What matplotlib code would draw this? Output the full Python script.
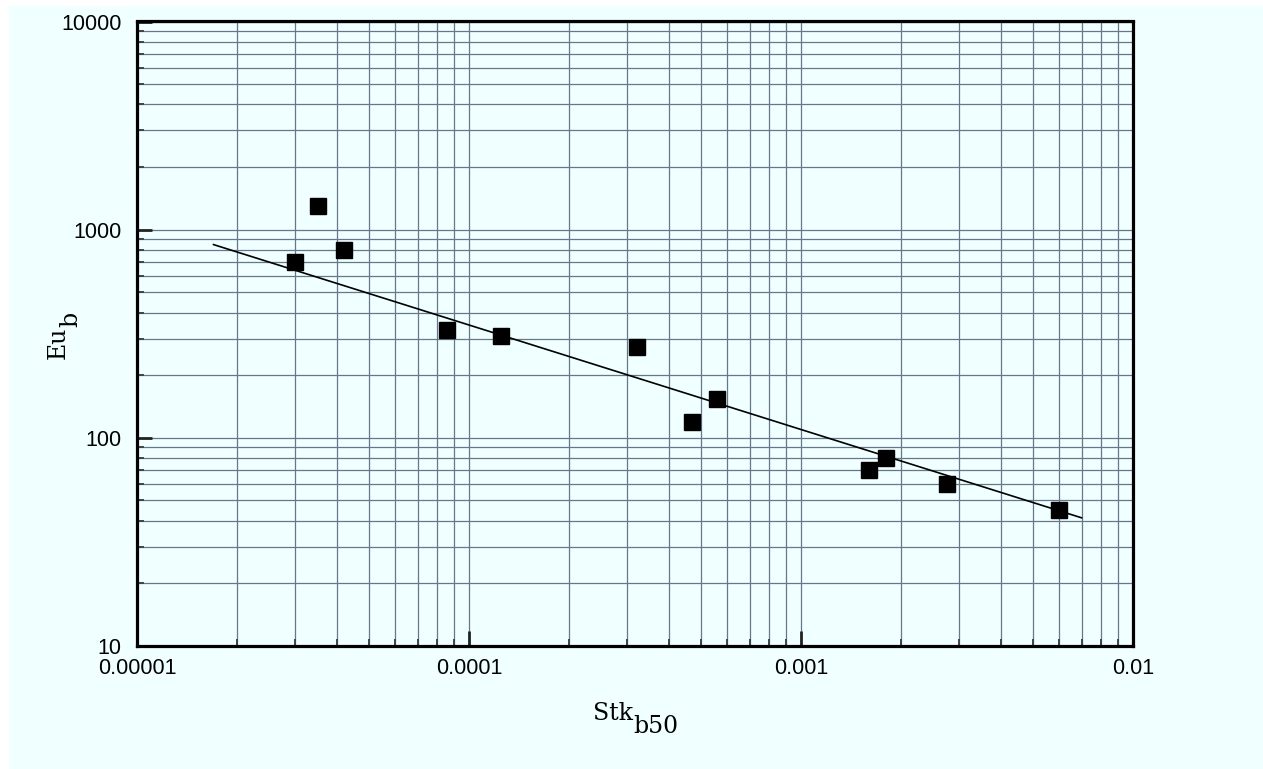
import numpy as np
import matplotlib.pyplot as plt
from matplotlib.patches import Rectangle
from matplotlib.ticker import LogLocator, FixedLocator, FixedFormatter, NullFormatter

# measured points
stk = [3.0e-5, 3.5e-5, 4.2e-5, 8.6e-5, 1.25e-4, 3.2e-4, 4.7e-4, 5.6e-4,
       1.6e-3, 1.8e-3, 2.75e-3, 6.0e-3]
eu = [700, 1300, 800, 330, 308, 273, 119, 154, 70, 80, 60, 45]

# fitted power law  Eu = C * Stk^n
fit_c = 3.42
fit_n = -0.502
fit_range = [1.7e-5, 7.0e-3]

x_ticks = [1e-5, 1e-4, 1e-3, 1e-2]
x_labels = ['0.00001', '0.0001', '0.001', '0.01']
y_ticks = [10, 100, 1000, 10000]
y_labels = ['10', '100', '1000', '10000']

bg = '#F0FFFF'
gridc = '#66778a'

plt.rcParams['font.family'] = ['Liberation Sans', 'DejaVu Sans']
plt.rcParams['xtick.labelsize'] = 15.5
plt.rcParams['ytick.labelsize'] = 15.5

fig = plt.figure(figsize=(12.63, 7.69), dpi=100, facecolor='white')
fig.patches.append(Rectangle((9 / 1263, 0), 1, 763 / 769, transform=fig.transFigure,
                             facecolor=bg, edgecolor='none', zorder=-10))
ax = fig.add_axes([137 / 1263, 123 / 769, 996 / 1263, 624.5 / 769])
ax.set_facecolor(bg)
ax.set_xscale('log')
ax.set_yscale('log')
ax.set_xlim(1e-5, 1e-2)
ax.set_ylim(10, 10000)

ax.xaxis.set_major_locator(FixedLocator(x_ticks))
ax.xaxis.set_major_formatter(FixedFormatter(x_labels))
ax.yaxis.set_major_locator(FixedLocator(y_ticks))
ax.yaxis.set_major_formatter(FixedFormatter(y_labels))
ax.xaxis.set_minor_locator(LogLocator(base=10, subs=np.arange(2, 10), numticks=20))
ax.yaxis.set_minor_locator(LogLocator(base=10, subs=np.arange(2, 10), numticks=20))
ax.xaxis.set_minor_formatter(NullFormatter())
ax.yaxis.set_minor_formatter(NullFormatter())

ax.grid(True, which='both', color=gridc, linewidth=0.9, zorder=0)
ax.set_axisbelow(True)

ax.tick_params(which='major', direction='in', length=11, width=2, color='#222222',
               top=False, right=False)
ax.tick_params(axis='y', which='major', pad=11)
ax.tick_params(axis='x', which='major', pad=9)
ax.tick_params(which='minor', direction='in', length=5, width=1.4, color='#444444',
               top=False, right=False)

for s in ax.spines.values():
    s.set_linewidth(2.3)
    s.set_color('black')

xf = np.array(fit_range)
ax.plot(xf, fit_c * xf ** fit_n, color='black', linewidth=1.2, zorder=3)
ax.plot(stk, eu, linestyle='none', marker='s', markersize=12, color='black', zorder=4)

# axis labels with full-size subscripts
serif = ['DejaVu Serif']
fig.text(593 / 1263, 1 - 720 / 769, 'Stk', fontsize=17, family=serif, va='baseline')
fig.text(633 / 1263, 1 - 733 / 769, 'b50', fontsize=17, family=serif, va='baseline')
fig.text(65 / 1263, 1 - 359 / 769, 'Eu', fontsize=17, family=serif, rotation=90,
         rotation_mode='anchor', ha='left', va='baseline')
fig.text(77 / 1263, 1 - 327 / 769, 'b', fontsize=17, family=serif, rotation=90,
         rotation_mode='anchor', ha='left', va='baseline')

fig.savefig('out.png', dpi=100, facecolor='white')
